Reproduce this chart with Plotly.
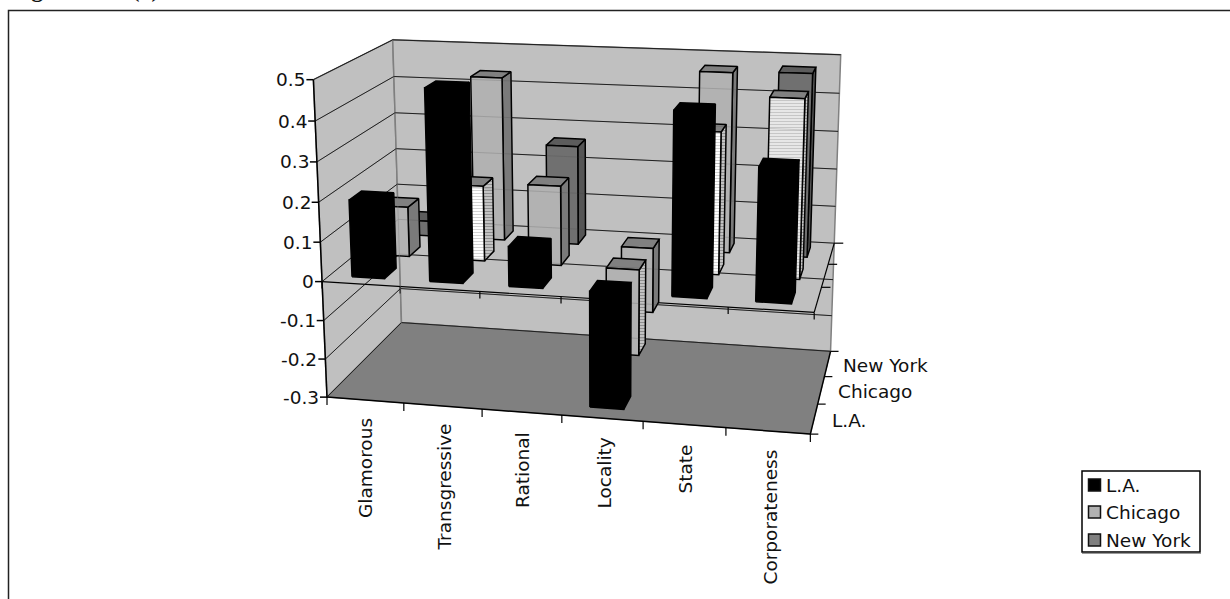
import numpy as np
import plotly.graph_objects as go

# Chart data
categories = ["Glamorous", "Transgressive", "Rational", "Locality", "State", "Corporateness"]
series_names = ["L.A.", "Chicago", "New York"]
la_values = [0.195, 0.48, 0.10, -0.295, 0.45, 0.325]
chicago_values = [0.13, 0.195, 0.205, -0.225, 0.36, 0.45]
new_york_values = [0.04, 0.435, 0.262, -0.175, 0.47, 0.475]
value_ticks = [0.5, 0.4, 0.3, 0.2, 0.1, 0, -0.1, -0.2, -0.3]

# Face styles per city and category: solid grey, dark grey or hatched
chicago_styles = ["light", "hatch", "light", "light_hatched_side", "hatch", "hatch_dense"]
new_york_styles = ["dark", "light", "dark", "light", "light", "dark"]

PALE_HATCH = dict(shape="-", size=3, solidity=0.35, fgcolor="#a8a8a8", bgcolor="#ffffff")
DENSE_HATCH = dict(shape="-", size=3, solidity=0.5, fgcolor="#9a9a9a", bgcolor="#f2f2f2")
SIDE_HATCH = dict(shape="-", size=3, solidity=0.4, fgcolor="#555555", bgcolor="#c8c8c8")

STYLES = {
    "black": dict(front="#000000", side="#000000", top="#000000"),
    "light": dict(front="#b2b2b2", side="#7a7a7a", top="#808080"),
    "dark": dict(front="#707070", side="#555555", top="#5c5c5c"),
    "hatch": dict(front="#ffffff", side="#9a9a9a", top="#808080",
                  front_pattern=PALE_HATCH, side_pattern=SIDE_HATCH),
    "hatch_dense": dict(front="#ffffff", side="#9a9a9a", top="#808080",
                        front_pattern=DENSE_HATCH, side_pattern=SIDE_HATCH),
    "light_hatched_side": dict(front="#b2b2b2", side="#9a9a9a", top="#808080",
                               side_pattern=SIDE_HATCH),
}

W, H = 1230, 599
N_CAT, N_SER = len(categories), len(series_names)
V_MIN, V_MAX = -0.3, 0.5
BAR_W, BAR_D = 0.42, 0.46

# Perspective camera solved from where the plot box corners sit on the page
box_world = np.array([
    (0, 0, 0.5), (0, 0, 0), (0, 0, -0.3),
    (0, 3, 0.5), (0, 3, 0), (0, 3, -0.3),
    (6, 3, 0.5), (6, 3, 0), (6, 3, -0.3),
    (6, 0, -0.3), (6, 0, 0),
], dtype=float)
box_page = np.array([
    (315, 79), (320, 281), (328, 397),
    (392, 40), (398, 220), (402, 323),
    (841, 55), (834, 243), (831, 350),
    (810, 435), (814, 313),
], dtype=float)


def solve_camera(world, page):
    rows, rhs = [], []
    for (a, b, c), (u, v) in zip(world, page):
        rows.append([a, b, c, 1, 0, 0, 0, 0, -u * a, -u * b, -u * c])
        rows.append([0, 0, 0, 0, a, b, c, 1, -v * a, -v * b, -v * c])
        rhs += [u, v]
    p, *_ = np.linalg.lstsq(np.array(rows), np.array(rhs), rcond=None)
    return np.append(p, 1).reshape(3, 4)


CAM = solve_camera(box_world, box_page)


def project(points):
    pts = np.column_stack([np.asarray(points, dtype=float), np.ones(len(points))])
    out = pts @ CAM.T
    return out[:, 0] / out[:, 2], out[:, 1] / out[:, 2]


fig = go.Figure()


def polygon(points, fill, line_color="#000000", width=1.5, pattern=None):
    x, y = project(list(points) + [points[0]])
    fig.add_trace(go.Scatter(
        x=x, y=y, mode="lines", fill="toself", fillcolor=fill,
        fillpattern=pattern, line=dict(color=line_color, width=width),
        hoverinfo="skip", showlegend=False,
    ))


def segments(pairs, color, width=1.0, offset=(0, 0)):
    xs, ys = [], []
    for a, b in pairs:
        x, y = project([a, b])
        xs += [x[0], x[1] + offset[0], None]
        ys += [y[0], y[1] + offset[1], None]
    fig.add_trace(go.Scatter(
        x=xs, y=ys, mode="lines", line=dict(color=color, width=width),
        hoverinfo="skip", showlegend=False,
    ))


def grid_pairs():
    pairs = []
    for v in value_ticks:
        pairs.append(((0, 0, v), (0, N_SER, v)))
        pairs.append(((0, N_SER, v), (N_CAT, N_SER, v)))
    return pairs


def draw_bar(cat, row, value, style_name):
    style = STYLES[style_name]
    x0, x1 = cat + 0.5 - BAR_W / 2, cat + 0.5 + BAR_W / 2
    y0, y1 = row + 0.5 - BAR_D / 2, row + 0.5 + BAR_D / 2
    lo, hi = min(0, value), max(0, value)
    polygon([(x1, y0, lo), (x1, y1, lo), (x1, y1, hi), (x1, y0, hi)], style["side"],
            pattern=style.get("side_pattern"))
    polygon([(x0, y0, hi), (x1, y0, hi), (x1, y1, hi), (x0, y1, hi)], style["top"])
    polygon([(x0, y0, lo), (x1, y0, lo), (x1, y0, hi), (x0, y0, hi)], style["front"],
            pattern=style.get("front_pattern"))


# Walls and floor
polygon([(0, 0, V_MIN), (0, N_SER, V_MIN), (0, N_SER, V_MAX), (0, 0, V_MAX)], "#c0c0c0", "#808080", 1.5)
polygon([(0, N_SER, V_MIN), (N_CAT, N_SER, V_MIN), (N_CAT, N_SER, V_MAX), (0, N_SER, V_MAX)], "#c0c0c0", "#808080", 1.5)
polygon([(0, 0, V_MIN), (N_CAT, 0, V_MIN), (N_CAT, N_SER, V_MIN), (0, N_SER, V_MIN)], "#808080", "#808080", 1)

segments(grid_pairs(), "#1a1a1a", 1)

# Value axis, floor edges and their tick marks
segments([((0, 0, V_MAX), (0, 0, V_MIN))], "#000000", 1.5)
segments([((0, 0, V_MIN), (N_CAT, 0, V_MIN)), ((N_CAT, 0, V_MIN), (N_CAT, N_SER, V_MIN))], "#000000", 1.5)
segments([((0, 0, v), (0, 0, v)) for v in value_ticks], "#000000", 1.5, offset=(-7, 0))
segments([((c, 0, V_MIN), (c, 0, V_MIN)) for c in range(N_CAT + 1)], "#000000", 1.2, offset=(0, 8))
segments([((N_CAT, s, V_MIN), (N_CAT, s, V_MIN)) for s in range(N_SER + 1)], "#000000", 1.2, offset=(8, 0))

# Zero plane axes with their own ticks
segments([((0, 0, 0), (N_CAT, 0, 0)), ((N_CAT, 0, 0), (N_CAT, N_SER, 0))], "#000000", 1.2)
segments([((c, 0, 0), (c, 0, 0)) for c in range(N_CAT + 1)], "#000000", 1.2, offset=(0, 7))
segments([((N_CAT, s, 0), (N_CAT, s, 0)) for s in range(1, N_SER + 1)], "#000000", 1.2, offset=(9, 0))

# Bars, back row first so nearer bars overlap them
for c, (val, sty) in enumerate(zip(new_york_values, new_york_styles)):
    draw_bar(c, 2, val, sty)
for c, (val, sty) in enumerate(zip(chicago_values, chicago_styles)):
    draw_bar(c, 1, val, sty)

# The translucent walls leave a faint trace of the grid across the paler bars
segments(grid_pairs(), "rgba(60,60,60,0.18)", 1)
segments([((0, N_SER, V_MIN), (0, N_SER, V_MAX))], "rgba(128,128,128,0.4)", 1)

for c, val in enumerate(la_values):
    draw_bar(c, 0, val, "black")

FONT = "DejaVu Sans"
TEXT = "#111111"
LABEL_SIZE = 18.5


def label(x, y, text, size=LABEL_SIZE, xanchor="left", yanchor="middle", angle=0):
    fig.add_annotation(
        x=x, y=y, xref="x", yref="y", text=text,
        showarrow=False, xanchor=xanchor, yanchor=yanchor, textangle=angle,
        font=dict(family=FONT, size=size, color=TEXT),
        borderpad=0, borderwidth=0,
    )


# Value axis labels
for v in value_ticks:
    px, py = project([(0, 0, v)])
    label(px[0] - 8, py[0], f"{v:g}", xanchor="right")

# Category labels hang below the floor edge
category_label_x = [365, 444, 522, 604, 685, 770]
category_label_top = [418, 424, 432, 438, 445, 450]
for name, lx, ly in zip(categories, category_label_x, category_label_top):
    label(lx, ly, name, xanchor="center", yanchor="top", angle=-90)

# Depth axis labels
depth_label_x = [832, 838, 843]
depth_label_y = [420, 391, 365]
for name, lx, ly in zip(series_names, depth_label_x, depth_label_y):
    label(lx, ly, name)

# Legend box, swatches and entries
legend_colors = ["#000000", "#b2b2b2", "#808080"]
legend_y = [485, 512, 540]
fig.add_shape(type="rect", xref="x", yref="y", x0=1082, x1=1200, y0=471, y1=552,
              line=dict(color="#000000", width=1.5), fillcolor="#ffffff", layer="below")
fig.add_shape(type="line", xref="x", yref="y", x0=1082, x1=1201, y0=553.5, y1=553.5,
              line=dict(color="#999999", width=1), layer="below")
for name, col, ly in zip(series_names, legend_colors, legend_y):
    fig.add_trace(go.Scatter(
        x=[1094.5], y=[ly], mode="markers", name=name,
        marker=dict(symbol="square", size=12, color=col, line=dict(color="#111111", width=1.5)),
        hoverinfo="skip", showlegend=False,
    ))
    label(1106, ly, name)

# Page frame
fig.add_trace(go.Scatter(
    x=[8.5, 8.5, W], y=[H, 10.5, 10.5], mode="lines",
    line=dict(color="#222222", width=1.5), hoverinfo="skip", showlegend=False,
))

# Caption sits above the frame and runs off the top of the page
fig.add_annotation(
    x=0, y=1, xref="x", yref="paper", xanchor="left", yanchor="bottom", yshift=-3, xshift=9,
    text="<b>Figure 2&nbsp;&nbsp;&nbsp;&nbsp;&nbsp;&nbsp;(a)</b>", showarrow=False,
    font=dict(family="Liberation Serif", size=24, color=TEXT), borderpad=0,
)

fig.update_layout(
    width=W, height=H, margin=dict(l=0, r=0, t=0, b=0),
    paper_bgcolor="#ffffff", plot_bgcolor="#ffffff", showlegend=False,
    xaxis=dict(range=[0, W], visible=False, fixedrange=True),
    yaxis=dict(range=[H, 0], visible=False, fixedrange=True),
)
fig.write_html("out.html", config=dict(displayModeBar=False))
